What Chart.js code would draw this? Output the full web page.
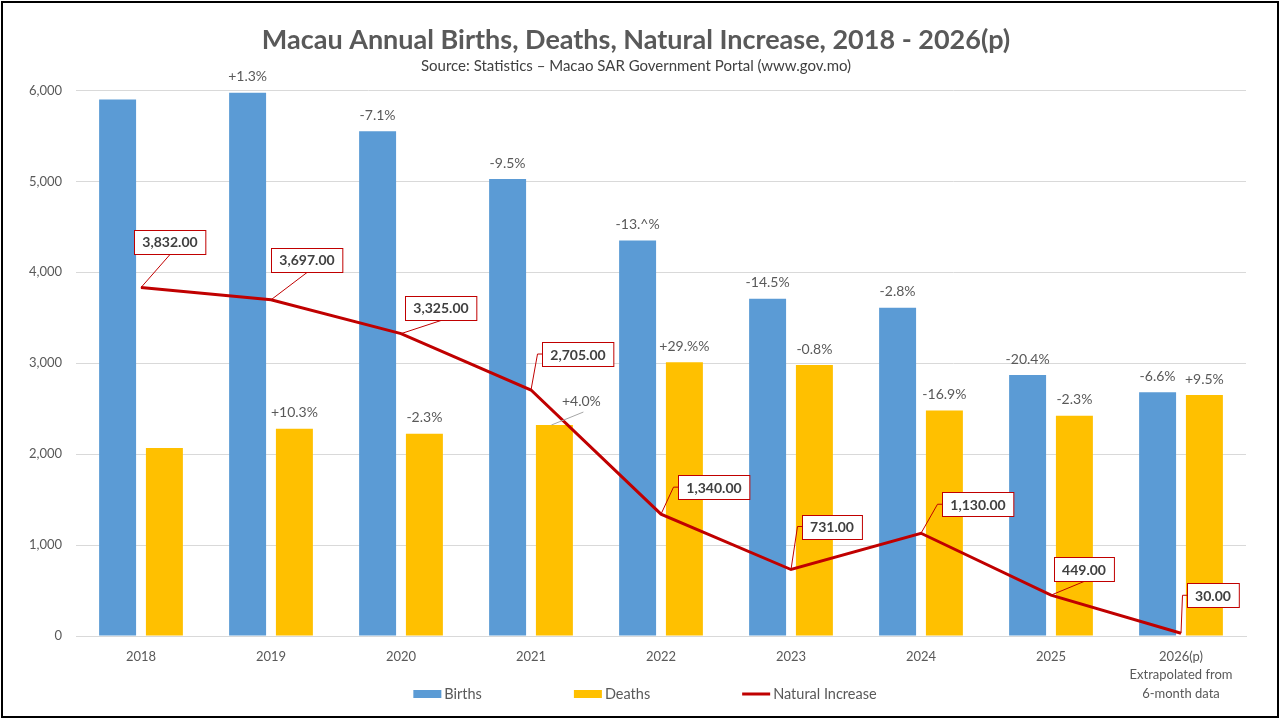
<!DOCTYPE html>
<html><head><meta charset="utf-8">
<script src="https://cdn.jsdelivr.net/npm/chart.js@4.4.1/dist/chart.umd.min.js"></script>
<style>html,body{margin:0;padding:0;background:#fff;}#wrap{width:1280px;height:720px;}</style>
</head><body><div id="wrap"><canvas id="c" width="1280" height="720"></canvas></div>
<script>
// ---- data ----
const categories = ['2018','2019','2020','2021','2022','2023','2024','2025',['2026(p)','Extrapolated from','6-month data']];
const births = [5900, 5975, 5550, 5025, 4350, 3710, 3610, 2870, 2680];
const deaths = [2068, 2278, 2225, 2320, 3010, 2979, 2480, 2421, 2650];
const naturalIncrease = [3832, 3697, 3325, 2705, 1340, 731, 1130, 449, 30];
const birthsChange = ['', '+1.3%', '-7.1%', '-9.5%', '-13.^%', '-14.5%', '-2.8%', '-20.4%', '-6.6%'];
const deathsChange = ['', '+10.3%', '-2.3%', '+4.0%', '+29.%%', '-0.8%', '-16.9%', '-2.3%', '+9.5%'];
const seriesNames = ['Births', 'Deaths', 'Natural Increase'];
const titleText = 'Macau Annual Births, Deaths, Natural Increase, 2018 - 2026(p)';
const subtitleText = 'Source: Statistics \u2013 Macao SAR Government Portal (www.gov.mo)';

// ---- styling / label placement (not data) ----
const FONT = 'Lato, "Open Sans", sans-serif';
const COLORS = { births: '#5B9BD5', deaths: '#FFC000', line: '#C00000', text: '#595959', grid: '#D9D9D9' };
// box-centre offsets of natural-increase labels relative to the point, and leader anchor side
const niLabelOffsets = [[29,-46,'b'],[36,-40,'b'],[40,-26,'b'],[47,-36,'l'],[53,-27,'l'],[41,-43,'l'],[57,-29,'l'],[33,-26,'b'],[32,-38,'l']];

const labelsPlugin = {
  id: 'customLabels',
  afterDatasetsDraw(chart) {
    const ctx = chart.ctx;
    ctx.save();
    // percentage labels above bars
    const pctSets = [birthsChange, deathsChange];
    ctx.font = '14px ' + FONT;
    ctx.fillStyle = COLORS.text;
    ctx.textAlign = 'center';
    ctx.textBaseline = 'middle';
    [0,1].forEach(di => {
      const meta = chart.getDatasetMeta(di);
      meta.data.forEach((bar, i) => {
        const t = pctSets[di][i];
        if (!t) return;
        if (di === 1 && i === 3) {
          ctx.strokeStyle = '#A6A6A6'; ctx.lineWidth = 1;
          ctx.beginPath(); ctx.moveTo(bar.x - 3, bar.y); ctx.lineTo(bar.x + 29, bar.y - 13); ctx.stroke();
          ctx.fillText(t, bar.x + 27, bar.y - 24);
        } else {
          ctx.fillText(t, bar.x, bar.y - 16);
        }
      });
    });
    // natural increase labels
    const lm = chart.getDatasetMeta(2);
    ctx.font = 'bold 14px ' + FONT;
    lm.data.forEach((pt, i) => {
      const v = naturalIncrease[i];
      const txt = v.toLocaleString('en-US', {minimumFractionDigits: 2, maximumFractionDigits: 2});
      const [dx, dy, side] = niLabelOffsets[i];
      const w = ctx.measureText(txt).width + 16, h = 24;
      const cx = pt.x + dx, cy = pt.y + dy;
      const L = Math.round(cx - w/2) + 0.5, T = Math.round(cy - h/2) + 0.5;
      ctx.strokeStyle = COLORS.line; ctx.lineWidth = 1;
      ctx.beginPath();
      ctx.moveTo(pt.x, pt.y);
      if (side === 'b') {
        ctx.lineTo(cx, T + h);
      } else {
        ctx.lineTo(L - 5, cy); ctx.lineTo(L, cy);
      }
      ctx.stroke();
      ctx.fillStyle = '#FFFFFF';
      ctx.fillRect(L, T, w, h);
      ctx.strokeRect(L, T, w, h);
      ctx.fillStyle = '#404040';
      ctx.textAlign = 'center'; ctx.textBaseline = 'middle';
      ctx.fillText(txt, cx, cy + 1);
    });
    ctx.restore();
  },
  afterDraw(chart) {
    const ctx = chart.ctx;
    ctx.save();
    // legend
    ctx.font = '14.5px ' + FONT;
    ctx.textBaseline = 'middle'; ctx.textAlign = 'left';
    const y = 694, gap = 92, box = 28;
    const items = chart.data.datasets.map(d => ({ label: d.label, color: d.type === 'line' ? d.borderColor : d.backgroundColor, line: d.type === 'line' }));
    const widths = items.map(it => box + 3 + ctx.measureText(it.label).width);
    const total = widths.reduce((a,b)=>a+b,0) + gap * (items.length - 1);
    let x = 645 - total / 2;
    items.forEach((it, k) => {
      ctx.fillStyle = it.color;
      if (it.line) ctx.fillRect(x, y - 1.5, box, 3);
      else ctx.fillRect(x, y - 4, box, 8);
      ctx.fillStyle = COLORS.text;
      ctx.fillText(it.label, x + box + 3, y);
      x += widths[k] + gap;
    });
    // outer border
    ctx.strokeStyle = '#000'; ctx.lineWidth = 2;
    ctx.strokeRect(2, 2, 1276, 715);
    ctx.restore();
  }
};

new Chart(document.getElementById('c'), {
  type: 'bar',
  data: {
    labels: categories,
    datasets: [
      { label: seriesNames[0], data: births, backgroundColor: COLORS.births, categoryPercentage: 0.72, barPercentage: 0.79, order: 1 },
      { label: seriesNames[1], data: deaths, backgroundColor: COLORS.deaths, categoryPercentage: 0.72, barPercentage: 0.79, order: 1 },
      { type: 'line', label: seriesNames[2], data: naturalIncrease, borderColor: COLORS.line, backgroundColor: COLORS.line, borderWidth: 3, pointRadius: 0, tension: 0, order: 0 }
    ]
  },
  options: {
    responsive: false,
    animation: false,
    devicePixelRatio: 1,
    layout: { padding: { left: 0, right: 8, top: 0, bottom: 0 } },
    plugins: {
      legend: { display: false },
      tooltip: { enabled: false },
      title: { display: true, text: titleText, color: COLORS.text, font: { family: FONT, size: 27, weight: 'bold' }, padding: { top: 24, bottom: 1 } },
      subtitle: { display: true, text: subtitleText, color: '#404040', font: { family: FONT, size: 15 }, padding: { top: 0, bottom: 15 } }
    },
    scales: {
      x: {
        grid: { display: false, drawTicks: false },
        border: { display: true, color: COLORS.grid },
        ticks: { color: COLORS.text, font: { family: FONT, size: 13, lineHeight: 1.4 }, padding: 12, maxRotation: 0, autoSkip: false },
        afterFit(s) { s.height = 84; }
      },
      y: {
        min: 0, max: 6000,
        grid: { color: COLORS.grid, drawTicks: false },
        border: { display: false },
        ticks: { stepSize: 1000, color: COLORS.text, font: { family: FONT, size: 13 }, padding: 14, callback: v => v.toLocaleString('en-US') },
        afterFit(s) { s.width = 76; }
      },
      yRightSpace: {
        position: 'right',
        display: true,
        grid: { display: false, drawTicks: false },
        border: { display: false },
        ticks: { display: false },
        afterFit(s) { s.width = 26; }
      }
    }
  },
  plugins: [labelsPlugin]
});
</script>
</body></html>
